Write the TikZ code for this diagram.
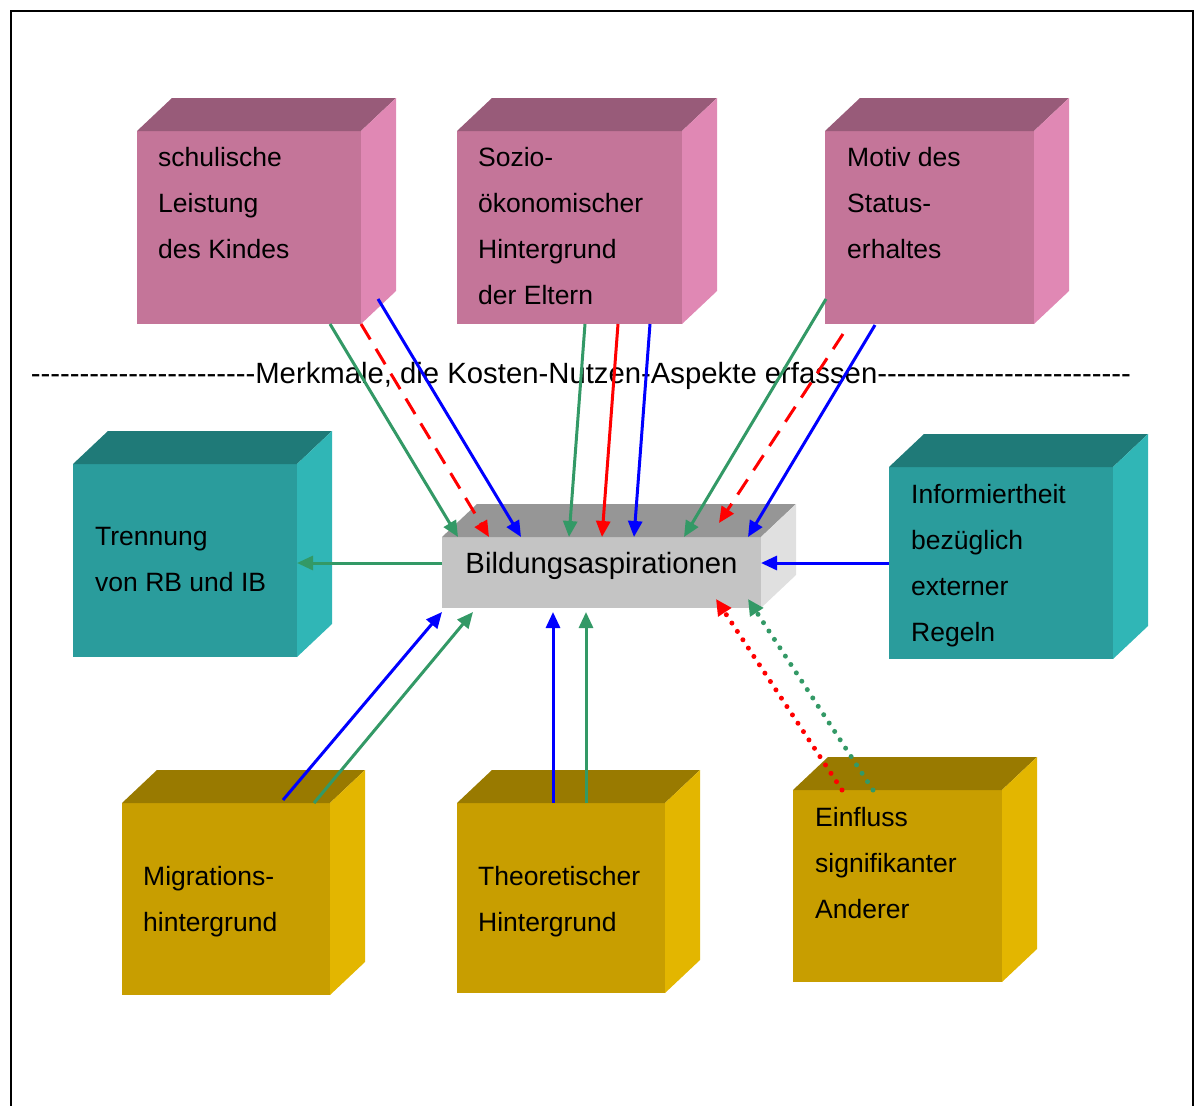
\documentclass[tikz,border=0pt]{standalone}
\usepackage{fontspec}
\setmainfont{Liberation Sans}[Ligatures=TeXOff]
\usetikzlibrary{arrows.meta,calc}

\definecolor{pinkfront}{HTML}{C47599}
\definecolor{pinktop}{HTML}{985B79}
\definecolor{pinkside}{HTML}{E088B4}
\definecolor{tealfront}{HTML}{2A9C9C}
\definecolor{tealtop}{HTML}{1F7A78}
\definecolor{tealside}{HTML}{30B6B6}
\definecolor{goldfront}{HTML}{C89E00}
\definecolor{goldtop}{HTML}{997A00}
\definecolor{goldside}{HTML}{E3B600}
\definecolor{grayfront}{HTML}{C4C4C4}
\definecolor{graytop}{HTML}{969696}
\definecolor{grayside}{HTML}{E0E0E0}
\definecolor{arrgreen}{HTML}{339966}

% top and right face of a box: node, top colour, side colour
\newcommand\cubefaces[3]{%
  \fill[#2] (#1.north west) -- ([shift={(35,-33)}]#1.north west)
    -- ([shift={(35,-33)}]#1.north east) -- (#1.north east) -- cycle;
  \fill[#3] (#1.north east) -- ([shift={(35,-33)}]#1.north east)
    -- ([shift={(35,-33)}]#1.south east) -- (#1.south east) -- cycle;}

\tikzset{
  face/.style={rectangle, inner sep=0pt, outer sep=0pt, anchor=north west},
  boxtext/.style={anchor=north west, inner sep=0pt, align=left,
    font=\fontsize{26.5}{46}\selectfont},
  arr/.style={line width=3pt, -{Triangle[length=16pt,width=14pt]}},
  dashedarr/.style={arr, dash pattern=on 18pt off 11pt},
  dottedarr/.style={line width=5pt, line cap=round, dash pattern=on 0pt off 10pt,
    -{Triangle[length=16pt,width=15pt]}},
}

\begin{document}
\begin{tikzpicture}[x=1pt, y=-1pt]
  \useasboundingbox (0,0) rectangle (1195,1106);

  % Drawing frame
  \draw [line width=2pt] (10.5,1106) -- (10.5,10.5) -- (1193,10.5) -- (1193,1106);

  % Drawing upper boxes
  \node [face, fill=pinkfront, minimum width=224pt, minimum height=193pt] (schul) at (137,131) {};
  \cubefaces{schul}{pinktop}{pinkside}
  \node [face, fill=pinkfront, minimum width=225pt, minimum height=193pt] (sozio) at (457,131) {};
  \cubefaces{sozio}{pinktop}{pinkside}
  \node [face, fill=pinkfront, minimum width=209pt, minimum height=193pt] (motiv) at (825,131) {};
  \cubefaces{motiv}{pinktop}{pinkside}

  % Drawing middle boxes
  \node [face, fill=tealfront, minimum width=224pt, minimum height=193pt] (trenn) at (73,464) {};
  \cubefaces{trenn}{tealtop}{tealside}
  \node [face, fill=tealfront, minimum width=224pt, minimum height=192pt] (info) at (889,467) {};
  \cubefaces{info}{tealtop}{tealside}
  \node [face, fill=grayfront, minimum width=319pt, minimum height=71pt,
    font=\fontsize{29.3}{35}\selectfont, text height=21pt, text depth=20pt] (bild) at (442,537) {Bildungsaspirationen};
  \cubefaces{bild}{graytop}{grayside}

  % Drawing lower boxes
  \node [face, fill=goldfront, minimum width=208pt, minimum height=192pt] (migra) at (122,803) {};
  \cubefaces{migra}{goldtop}{goldside}
  \node [face, fill=goldfront, minimum width=208pt, minimum height=190pt] (theo) at (457,803) {};
  \cubefaces{theo}{goldtop}{goldside}
  \node [face, fill=goldfront, minimum width=209pt, minimum height=192pt] (einfl) at (793,790) {};
  \cubefaces{einfl}{goldtop}{goldside}

  % Marking box texts
  \node [boxtext] (schultxt) at (158,147) {schulische\\Leistung\\des Kindes};
  \node [boxtext] (soziotxt) at (478,147) {Sozio-\\ökonomischer\\Hintergrund\\der Eltern};
  \node [boxtext] (motivtxt) at (847,147) {Motiv des\\Status-\\erhaltes};
  \node [boxtext] (trenntxt) at (95,527) {Trennung\\von RB und IB};
  \node [boxtext] (infotxt) at (911,484) {Informiertheit\\bezüglich\\externer\\Regeln};
  \node [boxtext] (migratxt) at (143,866) {Migrations-\\hintergrund};
  \node [boxtext] (theotxt) at (478,866) {Theoretischer\\Hintergrund};
  \node [boxtext] (einfltxt) at (815,807) {Einfluss\\signifikanter\\Anderer};

  % Marking separator line
  \node [anchor=base, inner sep=0pt, font=\fontsize{29.3}{35}\selectfont] (merk) at (581,383)
    {-----------------------Merkmale, die Kosten-Nutzen-Aspekte erfassen--------------------------};

  % Drawing arrows from schulische Leistung
  \draw [arr, arrgreen] ($(schul.south west)+(193,0)$) -- ($(bild.north west)+(16,0)$);
  \draw [dashedarr, red] (schul.south east) -- ($(bild.north west)+(47,0)$);
  \draw [arr, blue] ($(schul.south east)+(17,-25)$) -- ($(bild.north west)+(79,0)$);

  % Drawing arrows from Hintergrund der Eltern
  \draw [arr, arrgreen] ($(sozio.south west)+(128,0)$) -- ($(bild.north west)+(127,0)$);
  \draw [arr, red] ($(sozio.south west)+(161,0)$) -- ($(bild.north west)+(160,0)$);
  \draw [arr, blue] ($(sozio.south west)+(193,0)$) -- ($(bild.north west)+(192,0)$);

  % Drawing arrows from Statuserhalt
  \draw [arr, arrgreen] ($(motiv.south west)+(1,-25)$) -- ($(bild.north west)+(242,0)$);
  \draw [dashedarr, red] ($(motiv.south west)+(18,10)$) -- ($(bild.north west)+(277,-14)$);
  \draw [arr, blue] ($(motiv.south west)+(50,1)$) -- ($(bild.north east)+(-13,0)$);

  % Drawing side arrows
  \draw [arr, blue] (info.west) -- (info.west -| bild.east);
  \draw [arr, arrgreen] (bild.west |- info.west) -- (trenn.east |- info.west);

  % Drawing arrows from lower boxes
  \draw [arr, blue] ($(migra.north west)+(161,-3)$) -- ($(bild.south west)+(0,4)$);
  \draw [arr, arrgreen] ($(migra.north west)+(192,0)$) -- ($(bild.south west)+(31,4)$);
  \draw [arr, blue] ($(theo.north west)+(96,0)$) -- ($(bild.south west)+(111,4)$);
  \draw [arr, arrgreen] ($(theo.north west)+(129,0)$) -- ($(bild.south west)+(144,4)$);
  \draw [dottedarr, red] ($(einfl.north west)+(49,0)$) -- ($(bild.south east)+(-45,-9)$);
  \draw [dottedarr, arrgreen] ($(einfl.north west)+(80,0)$) -- ($(bild.south east)+(-13,-9)$);
\end{tikzpicture}
\end{document}
